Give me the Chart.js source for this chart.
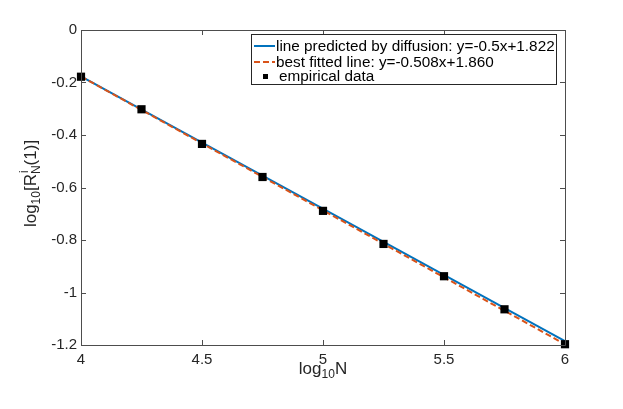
<!DOCTYPE html>
<html>
<head>
<meta charset="utf-8">
<script src="https://cdn.jsdelivr.net/npm/chart.js@4"></script>
<style>
  html, body { margin: 0; padding: 0; background: #fff; }
  #wrap { width: 623px; height: 409px; }
</style>
</head>
<body>
<div id="wrap"><canvas id="myChart" width="623" height="409"></canvas></div>
<script>
// Data block
const logN = [4, 4.25, 4.5, 4.75, 5, 5.25, 5.5, 5.75, 6];
const empirical = [-0.178, -0.302, -0.434, -0.560, -0.689, -0.815, -0.938, -1.064, -1.197];
const lineX = [4, 6];
const diffusionY = [-0.177, -1.185];
const fittedY = [-0.177, -1.197];
const xTicks = [4, 4.5, 5, 5.5, 6];
const yTicks = [0, -0.2, -0.4, -0.6, -0.8, -1, -1.2];
const legendLabels = [
	"line predicted by diffusion: y=-0.5x+1.822",
	"best fitted line: y=-0.508x+1.860",
	"empirical data",
];

const FONT = "'Liberation Sans', Arial, Helvetica, sans-serif";
const AXIS = "#4d4d4d";
const TEXT = "#262626";

function pts(xs, ys) {
	return xs.map((x, i) => ({ x: x, y: ys[i] }));
}

// box, inward ticks, axis titles and legend
const decor = {
	id: "decor",
	afterDatasetsDraw(chart) {
		const ctx = chart.ctx;
		const a = chart.chartArea;
		const xs = chart.scales.x;
		const ys = chart.scales.y;
		ctx.save();
		ctx.strokeStyle = AXIS;
		ctx.lineWidth = 1;
		ctx.beginPath();
		ctx.rect(Math.round(a.left) + 0.5, Math.round(a.top) + 0.5, Math.round(a.right - a.left), Math.round(a.bottom - a.top));
		ctx.stroke();
		const tl = 5;
		ctx.beginPath();
		xTicks.forEach((v) => {
			const px = Math.round(xs.getPixelForValue(v)) + 0.5;
			ctx.moveTo(px, a.bottom);
			ctx.lineTo(px, a.bottom - tl);
			ctx.moveTo(px, a.top);
			ctx.lineTo(px, a.top + tl);
		});
		yTicks.forEach((v) => {
			const py = Math.round(ys.getPixelForValue(v)) + 0.5;
			ctx.moveTo(a.left, py);
			ctx.lineTo(a.left + tl, py);
			ctx.moveTo(a.right, py);
			ctx.lineTo(a.right - tl, py);
		});
		ctx.stroke();

		// legend
		const lx = 251, ly = 34, lw = 305, lh = 50;
		ctx.fillStyle = "#fff";
		ctx.fillRect(lx, ly, lw, lh);
		ctx.strokeStyle = "#262626";
		ctx.strokeRect(lx + 0.5, ly + 0.5, lw, lh);
		const rows = [46, 62, 76];
		ctx.font = "15.3px " + FONT;
		ctx.textBaseline = "middle";
		ctx.textAlign = "left";
		chart.data.datasets.forEach((ds, i) => {
			const r = rows[i];
			if (ds.showLine) {
				ctx.strokeStyle = ds.borderColor;
				ctx.lineWidth = 2;
				ctx.setLineDash(ds.borderDash || []);
				ctx.beginPath();
				ctx.moveTo(lx + 3, r);
				ctx.lineTo(lx + 24, r);
				ctx.stroke();
				ctx.setLineDash([]);
			} else {
				ctx.fillStyle = "#000";
				ctx.fillRect(lx + 12, r - 2, 5, 5);
			}
			ctx.fillStyle = "#000";
			ctx.fillText(legendLabels[i], lx + 25 + (ds.showLine ? 0 : 3), r + 1);
		});

		// x title: log10N
		ctx.fillStyle = TEXT;
		ctx.textBaseline = "alphabetic";
		const big = "17px " + FONT, small = "12px " + FONT;
		ctx.font = big;
		const w1 = ctx.measureText("log").width;
		const w3 = ctx.measureText("N").width;
		ctx.font = small;
		const w2 = ctx.measureText("10").width;
		let cx = (a.left + a.right) / 2 - (w1 + w2 + w3) / 2;
		const by = 374;
		ctx.font = big;
		ctx.fillText("log", cx, by);
		ctx.font = small;
		ctx.fillText("10", cx + w1, by + 4);
		ctx.font = big;
		ctx.fillText("N", cx + w1 + w2, by);

		// y title: log10[R^i_N(1)]
		ctx.translate(36, (a.top + a.bottom) / 2 - 4);
		ctx.rotate(-Math.PI / 2);
		ctx.font = big;
		const p1 = ctx.measureText("log").width;
		const p3 = ctx.measureText("[R").width;
		const p5 = ctx.measureText("(1)]").width;
		ctx.font = small;
		const p2 = ctx.measureText("10").width;
		const p4 = ctx.measureText("N").width;
		let x0 = -(p1 + p2 + p3 + p4 + p5) / 2;
		ctx.font = big;
		ctx.fillText("log", x0, 0);
		x0 += p1;
		ctx.font = small;
		ctx.fillText("10", x0, 4);
		x0 += p2;
		ctx.font = big;
		ctx.fillText("[R", x0, 0);
		x0 += p3;
		ctx.font = small;
		ctx.fillText("i", x0 + 1, -8);
		ctx.fillText("N", x0, 4);
		x0 += p4;
		ctx.font = big;
		ctx.fillText("(1)]", x0, 0);
		ctx.restore();
	},
};

const data = {
	datasets: [
		{
			label: legendLabels[0],
			data: pts(lineX, diffusionY),
			showLine: true,
			borderColor: "#0072BD",
			borderWidth: 2,
			pointRadius: 0,
			order: 2,
			clip: false,
		},
		{
			label: legendLabels[1],
			data: pts(lineX, fittedY),
			showLine: true,
			borderColor: "#D95319",
			borderWidth: 2,
			borderDash: [6, 3],
			pointRadius: 0,
			order: 1,
			clip: false,
		},
		{
			label: legendLabels[2],
			data: pts(logN, empirical),
			showLine: false,
			pointStyle: "rect",
			pointRadius: 5.8,
			pointBackgroundColor: "#000",
			pointBorderWidth: 0,
			order: 0,
			clip: false,
		},
	],
};

const options = {
	responsive: false,
	animation: false,
	events: [],
	layout: {
		padding: { left: 0, top: 30, right: 58, bottom: 0 },
	},
	plugins: {
		legend: { display: false },
		tooltip: { enabled: false },
	},
	scales: {
		x: {
			type: "linear",
			min: 4,
			max: 6,
			grid: { display: false, drawTicks: false },
			border: { display: false },
			afterBuildTicks: (s) => {
				s.ticks = xTicks.map((v) => ({ value: v }));
			},
			afterFit: (s) => {
				s.height = 64;
			},
			ticks: {
				padding: 6,
				color: TEXT,
				font: { family: FONT, size: 15 },
				maxRotation: 0,
				callback: (v) => String(Math.round(v * 10) / 10),
			},
		},
		y: {
			type: "linear",
			min: -1.2,
			max: 0,
			grid: { display: false, drawTicks: false },
			border: { display: false },
			afterBuildTicks: (s) => {
				s.ticks = yTicks.map((v) => ({ value: v }));
			},
			afterFit: (s) => {
				s.width = 81;
			},
			ticks: {
				padding: 4,
				color: TEXT,
				font: { family: FONT, size: 15 },
				callback: (v) => String(Math.round(v * 10) / 10),
			},
		},
	},
};

const myChart = new Chart(document.getElementById("myChart"), {
	type: "scatter",
	data: data,
	options: options,
	plugins: [decor],
});
</script>
</body>
</html>
